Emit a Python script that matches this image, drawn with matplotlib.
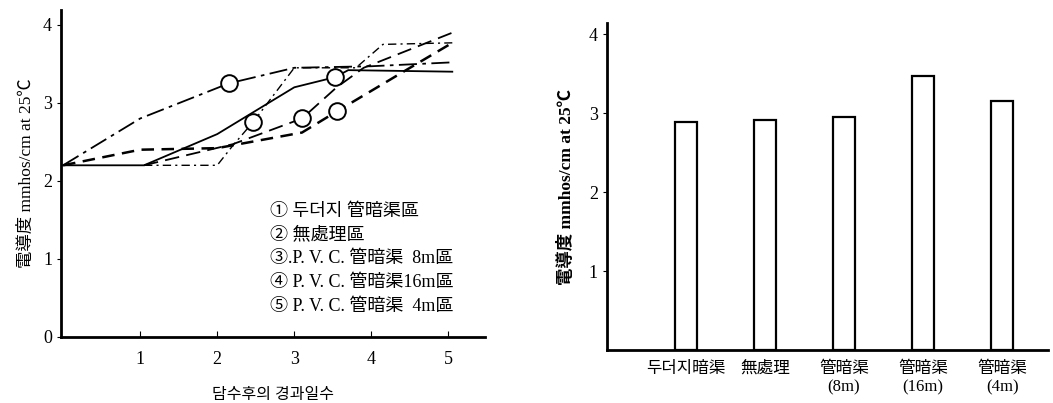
import matplotlib
matplotlib.use("Agg")
import matplotlib.pyplot as plt

plt.rcParams['font.family'] = ['Liberation Serif', 'Noto Sans CJK KR']
plt.rcParams['axes.unicode_minus'] = False

# 담수후 경과일수별 전도도 (5개 처리구)
s1_x = [0, 1.0, 2.15, 3.0, 4.0, 5.05]
s1_y = [2.2, 2.8, 3.25, 3.45, 3.47, 3.52]
s2_x = [0, 1.05, 2.0, 3.0, 3.53, 3.7, 5.05]
s2_y = [2.2, 2.2, 2.6, 3.2, 3.33, 3.42, 3.4]
s3_x = [1.05, 2.0, 2.2, 2.47, 3.0, 3.8, 4.15, 5.05]
s3_y = [2.2, 2.2, 2.45, 2.76, 3.45, 3.45, 3.75, 3.77]
s4_x = [0, 1.0, 2.0, 3.1, 3.55, 4.45, 5.05]
s4_y = [2.2, 2.4, 2.42, 2.62, 2.89, 3.42, 3.77]
s5_x = [1.05, 2.2, 3.1, 3.55, 3.9, 5.05]
s5_y = [2.2, 2.47, 2.8, 3.2, 3.45, 3.9]
circle_idx = [2, 4, 3, 4, 2]

legend_rows = ["① 두더지 管暗渠區", "② 無處理區", "③.P. V. C. 管暗渠  8m區",
               "④ P. V. C. 管暗渠16m區", "⑤ P. V. C. 管暗渠  4m區"]

# 처리구별 평균 전도도
bar_labels = ["두더지暗渠", "無處理", "管暗渠\n(8m)", "管暗渠\n(16m)", "管暗渠\n(4m)"]
bar_values = [2.89, 2.91, 2.95, 3.47, 3.15]

ylab = "電導度 mmhos/cm at 25℃"

fig = plt.figure(figsize=(10.53, 4.03), dpi=100)

# 왼쪽: 경과일수별 변화
ax1 = fig.add_axes([0.058, 0.164, 0.403, 0.811])
series = [(s1_x, s1_y, (0, (10, 3, 2, 3)), 1.3),
          (s2_x, s2_y, '-', 1.3),
          (s3_x, s3_y, (0, (6, 3, 1.5, 3)), 1.0),
          (s4_x, s4_y, (0, (5, 3)), 1.8),
          (s5_x, s5_y, (0, (8, 4)), 1.3)]
for (xs, ys, ls, lw), ci in zip(series, circle_idx):
    ax1.plot(xs, ys, color='black', linestyle=ls, linewidth=lw)
    ax1.plot(xs, ys, linestyle='none', marker='o', markersize=12,
             markerfacecolor='white', markeredgecolor='black',
             markeredgewidth=1.4, markevery=[ci])

ax1.set_xlim(-0.026, 5.48)
ax1.set_ylim(0, 4.19)
ax1.set_xticks([1, 2, 3, 4, 5])
ax1.set_yticks([0, 1, 2, 3, 4])
ax1.tick_params(axis='x', direction='in', length=4, labelsize=13, pad=10)
ax1.tick_params(axis='y', direction='out', length=3, labelsize=13)
ax1.spines['top'].set_visible(False)
ax1.spines['right'].set_visible(False)
ax1.spines['left'].set_linewidth(2)
ax1.spines['bottom'].set_linewidth(2)
ax1.set_ylabel(ylab, fontsize=12.5, labelpad=6)
ax1.set_xlabel("담수후의 경과일수", fontsize=11.5, labelpad=14)

for i, row in enumerate(legend_rows):
    ax1.text(0.493, 0.385 - i * 0.073, row, transform=ax1.transAxes,
             fontsize=13, va='center', ha='left')

# 오른쪽: 처리구별 막대
ax2 = fig.add_axes([0.5764, 0.1315, 0.4188, 0.811])
pos = range(1, len(bar_values) + 1)
ax2.bar(pos, bar_values, width=0.28, color='white', edgecolor='black',
        linewidth=1.6)
ax2.set_xlim(0, 5.58)
ax2.set_ylim(0, 4.14)
ax2.set_xticks(list(pos))
ax2.set_xticklabels(bar_labels, fontsize=12)
ax2.set_yticks([1, 2, 3, 4])
ax2.tick_params(axis='x', length=0, pad=8)
ax2.tick_params(axis='y', direction='out', length=3, labelsize=13)
ax2.spines['top'].set_visible(False)
ax2.spines['right'].set_visible(False)
ax2.spines['left'].set_linewidth(2)
ax2.spines['bottom'].set_linewidth(2)
ax2.set_ylabel(ylab, fontsize=12.5, fontweight='bold', labelpad=10)

fig.savefig("out.png", dpi=100)
